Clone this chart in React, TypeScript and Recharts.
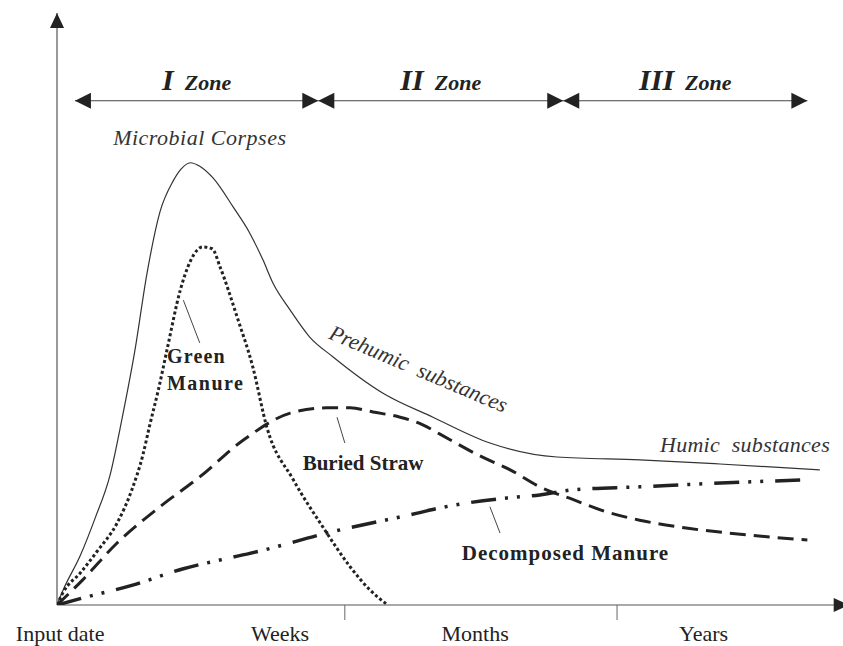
import React from 'react'
import { LineChart, Line, XAxis, YAxis, ReferenceLine, ReferenceDot } from 'recharts'

// schematic: x = time since input (0..100 along the axis), y = relative amount (0..100)
const corpsesX = [0, 0.8, 3.0, 4.9, 6.8, 8.3, 10.0, 11.5, 13.2, 14.9, 15.9, 17.1, 18.3, 20.0, 22.6, 24.7, 26.4, 27.7, 29.9, 32.4, 35.4, 41.8, 48.2, 55.5, 64.1, 74.7, 85.0, 97.8]
const corpsesY = [0, 2.6, 8.5, 14.9, 22.2, 31.6, 43.6, 56.4, 67.2, 72.5, 74.5, 75.6, 75.0, 73.0, 68.0, 63.6, 59.0, 55.0, 50.4, 45.8, 42.4, 36.2, 32.1, 27.7, 25.3, 24.8, 24.1, 23.1]

const greenX = [0, 0.8, 3.0, 5.1, 7.7, 9.6, 11.0, 11.9, 13.0, 14.1, 15.8, 17.1, 18.7, 19.9, 20.9, 23.1, 25.1, 26.9, 30.3, 34.1, 37.6, 40.1, 42.4]
const greenY = [0, 2.2, 5.5, 9.1, 14.0, 19.7, 25.6, 30.8, 36.8, 43.6, 53.8, 58.8, 61.2, 60.9, 57.8, 49.2, 40.7, 30.4, 21.4, 13.3, 6.5, 2.6, 0]

const strawX = [0, 3.3, 7.7, 13.2, 18.3, 23.9, 29.9, 34.6, 37.6, 40.5, 44.0, 46.9, 49.1, 54.2, 58.1, 61.9, 66.2, 70.5, 74.7, 79.9, 87.6, 96.2]
const strawY = [0, 4.3, 10.6, 16.8, 21.9, 28.2, 32.8, 33.7, 33.7, 33.0, 32.1, 30.8, 29.2, 25.5, 23.1, 20.2, 18.0, 15.9, 14.5, 13.3, 12.1, 11.1]

const manureX = [0, 3.3, 9.7, 16.2, 22.6, 25.6, 34.6, 46.2, 49.1, 57.7, 61.9, 66.2, 74.7, 82.4, 96.2]
const manureY = [0, 1.2, 3.4, 6.2, 8.2, 9.1, 12.3, 15.7, 16.6, 18.3, 18.8, 19.7, 20.2, 20.7, 21.4]

// time scale labels and the boundaries between them
const periodLabels = ['Input date', 'Weeks', 'Months', 'Years']
const periodCentres = [0.4, 28.6, 53.6, 82.9]
const periodBounds = [36.9, 71.8]

// zones along the top
const zoneNames = ['I', 'II', 'III']
const zoneStarts = [2.3, 33.5, 64.9]
const zoneEnds = [33.5, 64.9, 96.2]
const zoneLevel = 86.2

const zip = (xs: number[], ys: number[]) => xs.map((x, i) => ({ x, y: ys[i] }))

const SERIF = '"Liberation Serif", "Times New Roman", serif'
const INK = '#222'

function head(x1: number, y1: number, x2: number, y2: number, len = 16, half = 8) {
  // triangle with its tip at (x2, y2), pointing away from (x1, y1)
  const d = Math.hypot(x2 - x1, y2 - y1) || 1
  const ux = (x2 - x1) / d
  const uy = (y2 - y1) / d
  const bx = x2 - ux * len
  const by = y2 - uy * len
  return `${x2},${y2} ${bx - uy * half},${by + ux * half} ${bx + uy * half},${by - ux * half}`
}

const axisArrow = (props: any) => {
  const { x1, y1, x2, y2 } = props
  return (
    <g>
      <line x1={x1} y1={y1} x2={x2} y2={y2} stroke="#555" strokeWidth={1.2} />
      <polygon points={head(x1, y1, x2, y2, 15, 7)} fill={INK} />
    </g>
  )
}

const zoneArrow = (name: string) => (props: any) => {
  const { x1, y1, x2, y2 } = props
  const mx = (x1 + x2) / 2
  return (
    <g>
      <line x1={x1} y1={y1} x2={x2} y2={y2} stroke="#444" strokeWidth={1.2} />
      <polygon points={head(x2, y2, x1, y1)} fill={INK} />
      <polygon points={head(x1, y1, x2, y2)} fill={INK} />
      <text x={mx} y={y1 - 11} textAnchor="middle" fontFamily={SERIF} fontStyle="italic" fontWeight="bold" fill={INK}>
        <tspan fontSize={30}>{name}</tspan>
        <tspan fontSize={22} dx={11}>Zone</tspan>
      </text>
    </g>
  )
}

const note = (text: string, opts: { size: number; italic?: boolean; bold?: boolean; rotate?: number; fill?: string; spacing?: number }) => (props: any) => {
  const { cx, cy } = props
  return (
    <text
      x={cx}
      y={cy}
      fontFamily={SERIF}
      fontSize={opts.size}
      fontStyle={opts.italic ? 'italic' : 'normal'}
      fontWeight={opts.bold ? 'bold' : 'normal'}
      letterSpacing={opts.spacing ?? 0}
      fill={opts.fill ?? INK}
      transform={opts.rotate ? `rotate(${opts.rotate} ${cx} ${cy})` : undefined}
      style={{ whiteSpace: 'pre' }}
    >
      {text}
    </text>
  )
}

const PeriodTick = (props: any) => {
  const { x, y, payload } = props
  const i = periodCentres.indexOf(payload.value)
  return (
    <text x={x} y={y + 21} textAnchor="middle" fontFamily={SERIF} fontSize={22} fill={INK}>
      {periodLabels[i]}
    </text>
  )
}

export default function App() {
  return (
    <div style={{ position: 'absolute', left: 0, top: 0, background: '#fff' }}>
      <LineChart width={843} height={646} margin={{ top: 20, right: 6, bottom: 0, left: 57 }}>
        <XAxis
          xAxisId="bounds"
          type="number"
          dataKey="x"
          domain={[0, 100]}
          allowDataOverflow
          height={15}
          ticks={periodBounds}
          tick={() => <g />}
          tickSize={15}
          tickLine={{ stroke: '#666', strokeWidth: 1 }}
          axisLine={false}
          interval={0}
        />
        <XAxis
          xAxisId="periods"
          type="number"
          dataKey="x"
          domain={[0, 100]}
          allowDataOverflow
          height={26}
          ticks={periodCentres}
          tickSize={0}
          tickMargin={0}
          tickLine={false}
          axisLine={false}
          tick={<PeriodTick />}
          interval={0}
        />
        <YAxis yAxisId="amt" type="number" domain={[0, 100]} allowDataOverflow hide />

        <ReferenceLine xAxisId="bounds" yAxisId="amt" ifOverflow="visible" segment={[{ x: 0, y: 0 }, { x: 101.5, y: 0 }]} shape={axisArrow} />
        <ReferenceLine xAxisId="bounds" yAxisId="amt" ifOverflow="visible" segment={[{ x: 0, y: 0 }, { x: 0, y: 101.2 }]} shape={axisArrow} />

        {zoneNames.map((n, i) => (
          <ReferenceLine
            key={n}
            xAxisId="bounds"
            yAxisId="amt"
            ifOverflow="visible"
            segment={[{ x: zoneStarts[i], y: zoneLevel }, { x: zoneEnds[i], y: zoneLevel }]}
            shape={zoneArrow(n)}
          />
        ))}

        <Line xAxisId="bounds" yAxisId="amt" data={zip(corpsesX, corpsesY)} dataKey="y" type="monotone" stroke="#333" strokeWidth={1.2} dot={false} isAnimationActive={false} />
        <Line xAxisId="bounds" yAxisId="amt" data={zip(greenX, greenY)} dataKey="y" type="monotone" stroke={INK} strokeWidth={3} strokeDasharray="3 2.5" dot={false} isAnimationActive={false} />
        <Line xAxisId="bounds" yAxisId="amt" data={zip(strawX, strawY)} dataKey="y" type="monotone" stroke={INK} strokeWidth={3} strokeDasharray="16 8" dot={false} isAnimationActive={false} />
        <Line xAxisId="bounds" yAxisId="amt" data={zip(manureX, manureY)} dataKey="y" type="monotone" stroke={INK} strokeWidth={3.5} strokeDasharray="25 9 3 9 3 12" dot={false} isAnimationActive={false} />

        {/* leader lines */}
        <ReferenceLine xAxisId="bounds" yAxisId="amt" ifOverflow="visible" segment={[{ x: 16.2, y: 52.1 }, { x: 18.3, y: 44.8 }]} stroke="#444" strokeWidth={1} />
        <ReferenceLine xAxisId="bounds" yAxisId="amt" ifOverflow="visible" segment={[{ x: 35.9, y: 32.1 }, { x: 36.9, y: 27.7 }]} stroke="#444" strokeWidth={1} />
        <ReferenceLine xAxisId="bounds" yAxisId="amt" ifOverflow="visible" segment={[{ x: 55.5, y: 16.8 }, { x: 56.8, y: 12.3 }]} stroke="#444" strokeWidth={1} />

        {/* annotations */}
        <ReferenceDot xAxisId="bounds" yAxisId="amt" ifOverflow="visible" x={7.2} y={78.6} shape={note('Microbial Corpses', { size: 22, italic: true, fill: '#333', spacing: 0.5 })} />
        <ReferenceDot xAxisId="bounds" yAxisId="amt" ifOverflow="visible" x={14.1} y={41.4} shape={note('Green', { size: 20, bold: true, spacing: 1.2 })} />
        <ReferenceDot xAxisId="bounds" yAxisId="amt" ifOverflow="visible" x={14.1} y={36.8} shape={note('Manure', { size: 20, bold: true, spacing: 1.5 })} />
        <ReferenceDot xAxisId="bounds" yAxisId="amt" ifOverflow="visible" x={34.7} y={45.6} shape={note('Prehumic  substances', { size: 22, italic: true, rotate: 23, fill: '#333' })} />
        <ReferenceDot xAxisId="bounds" yAxisId="amt" ifOverflow="visible" x={31.5} y={23.1} shape={note('Buried Straw', { size: 21, bold: true })} />
        <ReferenceDot xAxisId="bounds" yAxisId="amt" ifOverflow="visible" x={51.9} y={7.7} shape={note('Decomposed Manure', { size: 21, bold: true, spacing: 1 })} />
        <ReferenceDot xAxisId="bounds" yAxisId="amt" ifOverflow="visible" x={77.3} y={26.2} shape={note('Humic  substances', { size: 22, italic: true, fill: '#333', spacing: 0.3 })} />
      </LineChart>
    </div>
  )
}
